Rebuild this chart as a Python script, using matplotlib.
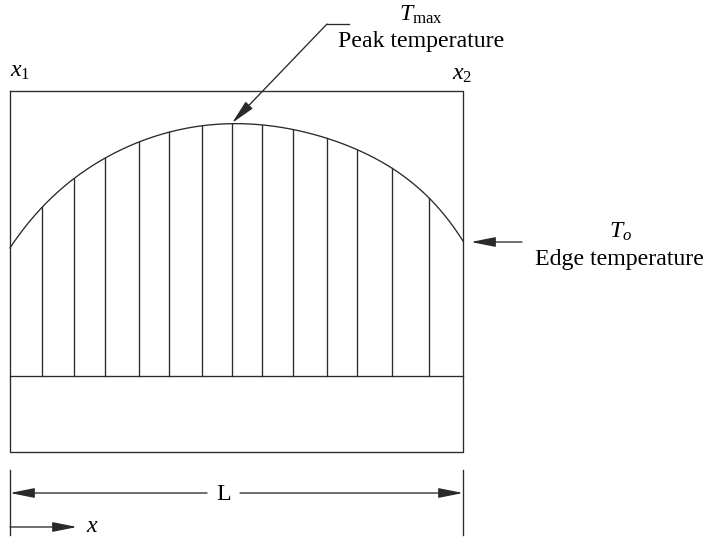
import numpy as np
import matplotlib
matplotlib.use("Agg")
import matplotlib.pyplot as plt

plt.rcParams['font.family'] = ['Liberation Serif', 'DejaVu Serif']
plt.rcParams['mathtext.fontset'] = 'custom'
plt.rcParams['mathtext.rm'] = 'Liberation Serif'
plt.rcParams['mathtext.it'] = 'Liberation Serif:italic'

# slab edges and the stations where the temperature profile is drawn
x_edges = [10, 463]
stations = [42, 74, 105, 139, 169, 202, 232, 262, 293, 327, 357, 392, 429]
# profile height above the slab base line (drawing units, y down)
profile_x = [10, 42, 74, 105, 139, 169, 202, 232, 262, 293, 327, 357, 392, 429, 463]
profile_y = [248, 207, 179, 158, 142, 132, 126, 123, 126, 129, 138, 150, 168, 198, 241]

slab_top = 91
slab_base = 376
slab_bottom = 452
peak_x, peak_y = 232, 123
edge_y = 242

ink = '#2a2a2a'
lw = 0.95
fs = 17.2

fig = plt.figure(figsize=(7.07, 5.38), dpi=100)
ax = fig.add_axes([0, 0, 1, 1])
ax.set_xlim(0, 707)
ax.set_ylim(538, 0)
ax.axis('off')

# outer slab outline
ax.plot([x_edges[0], x_edges[1], x_edges[1], x_edges[0], x_edges[0]],
        [slab_top, slab_top, slab_bottom, slab_bottom, slab_top], color=ink, lw=lw)
ax.plot(x_edges, [slab_base, slab_base], color=ink, lw=lw)

# smooth temperature profile through the read points
coef = np.polyfit(profile_x, profile_y, 6)
xs = np.linspace(x_edges[0], x_edges[1], 400)
ax.plot(xs, np.polyval(coef, xs), color=ink, lw=lw)

# vertical hatching from the profile down to the base line
tops = np.polyval(coef, np.array(stations, dtype=float))
for sx, ty in zip(stations, tops):
    ax.plot([sx, sx], [ty, slab_base], color=ink, lw=lw)

arrow = dict(arrowstyle='-|>,head_length=1.0,head_width=0.2', color=ink, lw=lw,
             mutation_scale=15, shrinkA=0, shrinkB=0)

# peak temperature leader
ax.plot([349, 327], [24, 24], color=ink, lw=lw)
ax.annotate('', xy=(peak_x, peak_y), xytext=(327, 24), arrowprops=arrow)
ax.text(421, 15, r'$T_{\rm max}$', fontsize=fs, ha='center', va='center')
ax.text(421, 41, 'Peak temperature', fontsize=fs, ha='center', va='center')

# edge temperature leader
ax.annotate('', xy=(x_edges[1] + 8, edge_y), xytext=(522, edge_y), arrowprops=arrow)
ax.text(621, 232, r'$T_o$', fontsize=fs, ha='center', va='center')
ax.text(619, 259, 'Edge temperature', fontsize=fs, ha='center', va='center')

# edge labels
ax.text(10, 72, r'$x_1$', fontsize=fs, ha='left', va='center')
ax.text(452, 75, r'$x_2$', fontsize=fs, ha='left', va='center')

# dimension L below the slab
for ex in x_edges:
    ax.plot([ex, ex], [470, 535], color=ink, lw=lw)
ax.annotate('', xy=(x_edges[0], 493), xytext=(207, 493), arrowprops=arrow)
ax.annotate('', xy=(x_edges[1], 493), xytext=(240, 493), arrowprops=arrow)
ax.text(224, 494, 'L', fontsize=fs, ha='center', va='center')

# direction of x
ax.annotate('', xy=(77, 527), xytext=(x_edges[0], 527), arrowprops=arrow)
ax.text(92, 527, r'$x$', fontsize=fs, ha='center', va='center')

fig.savefig('out.png', dpi=100)
